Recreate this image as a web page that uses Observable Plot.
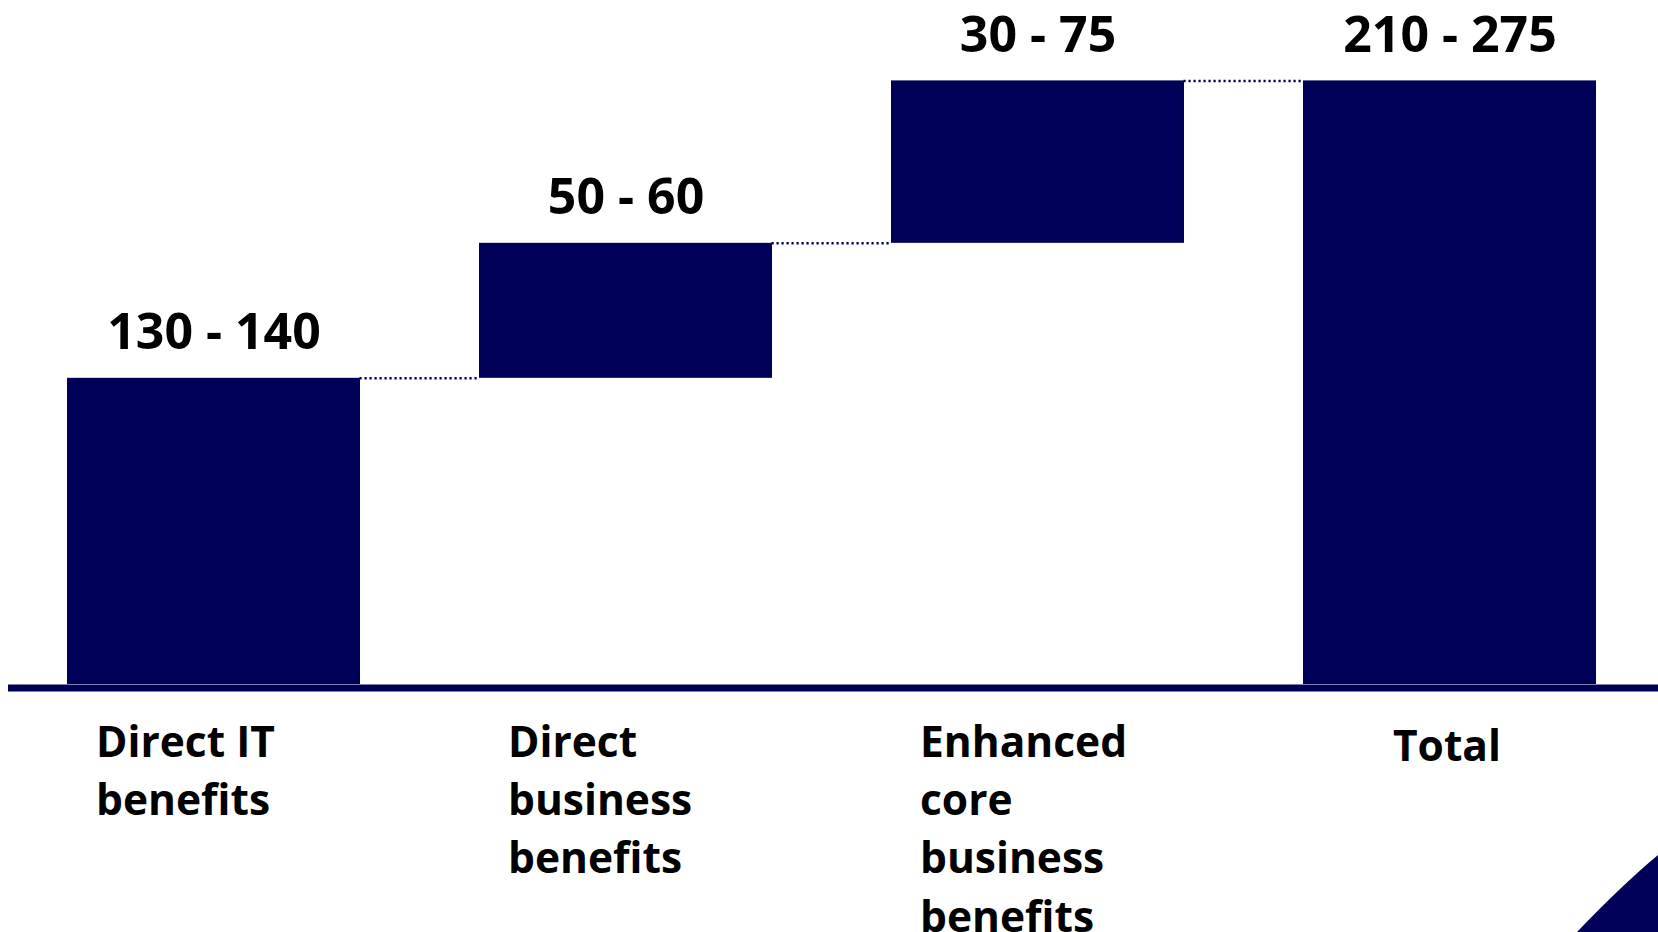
<!DOCTYPE html>
<html><head><meta charset="utf-8">
<script src="https://cdn.jsdelivr.net/npm/d3@7"></script>
<script src="https://cdn.jsdelivr.net/npm/@observablehq/plot@0.6"></script>
<style>
html,body{margin:0;padding:0;background:#fff;overflow:hidden}
#chart{position:relative;width:1658px;height:932px}
#corner{position:absolute;left:0;top:0;pointer-events:none}
</style></head><body>
<div id="chart"></div>
<script>
// ---- data ----
const categories = ["Direct IT benefits", "Direct business benefits", "Enhanced core business benefits", "Total"];
const categoryLabels = ["Direct IT\nbenefits", "Direct\nbusiness\nbenefits", "Enhanced\ncore\nbusiness\nbenefits", "Total"];
const rangeLow = [130, 50, 30, 210];
const rangeHigh = [140, 60, 75, 275];
// bar heights as drawn in the picture (estimated)
const barValues = [139.5, 61.5, 74, 275];
const isTotal = [false, false, false, true];

// ---- build waterfall table ----
let run = 0;
const rows = categories.map((c, i) => {
  const start = isTotal[i] ? 0 : run;
  const end = isTotal[i] ? barValues[i] : run + barValues[i];
  if (!isTotal[i]) run = end;
  return {category: c, label: categoryLabels[i], start, end, total: isTotal[i],
          rangeText: `${rangeLow[i]} - ${rangeHigh[i]}`};
});
const connectors = rows.slice(0, -1).map((r, i) => ({category: rows[i + 1].category, y: r.end}));

const navy = "#000058";
const W = 1658, H = 932;
const mL = 66.6, mR = 62.4, mT = 80.4, mB = 248;
const xOpts = {type: "band", domain: categories, range: [mL, W - mR], paddingInner: 0.29, paddingOuter: 0, align: 0.5};
const xs = Plot.scale({x: xOpts});
const bw = xs.bandwidth, gap = xs.step - xs.bandwidth;

const chart = Plot.plot({
  width: W, height: H,
  marginLeft: mL, marginRight: mR, marginTop: mT, marginBottom: mB,
  style: {fontFamily: "'Open Sans', sans-serif", background: "#fff", overflow: "visible"},
  x: {...xOpts, axis: null},
  y: {domain: [0, 275], axis: null},
  marks: [
    Plot.rectY(rows, {x: "category", y1: "start", y2: "end", fill: navy}),
    Plot.tickY(connectors, {x: "category", y: "y", stroke: navy, strokeWidth: 2.5,
      strokeDasharray: "2.2,2.8", insetLeft: -gap, insetRight: bw}),
    Plot.ruleY([0], {stroke: navy, strokeWidth: 7, dy: 3.5, insetLeft: -(mL - 8), insetRight: -mR}),
    Plot.text(rows, {x: "category", y: "end", text: "rangeText", lineAnchor: "bottom", dy: -29,
      fontSize: 50, fontWeight: "bold", fill: "#000"}),
    Plot.text(rows.filter(d => !d.total), {x: "category", y: () => 0, text: "label", lineAnchor: "top",
      textAnchor: "start", dx: -118, dy: 31, fontSize: 42.5, lineHeight: 1.37, fontWeight: "bold", fill: "#000"}),
    Plot.text(rows.filter(d => d.total), {x: "category", y: () => 0, text: "label", lineAnchor: "top",
      textAnchor: "middle", dx: -3, dy: 46, fontSize: 42.5, fontWeight: "bold", fill: "#000"})
  ]
});
document.getElementById("chart").appendChild(chart);

// decorative corner swoosh (not data)
const ns = "http://www.w3.org/2000/svg";
const deco = document.createElementNS(ns, "svg");
deco.setAttribute("id", "corner");
deco.setAttribute("width", W); deco.setAttribute("height", H);
const p = document.createElementNS(ns, "path");
p.setAttribute("d", "M1577,932 Q1622,885 1658,855 L1658,932 Z");
p.setAttribute("fill", navy);
deco.appendChild(p);
document.getElementById("chart").appendChild(deco);
</script>
</body></html>
